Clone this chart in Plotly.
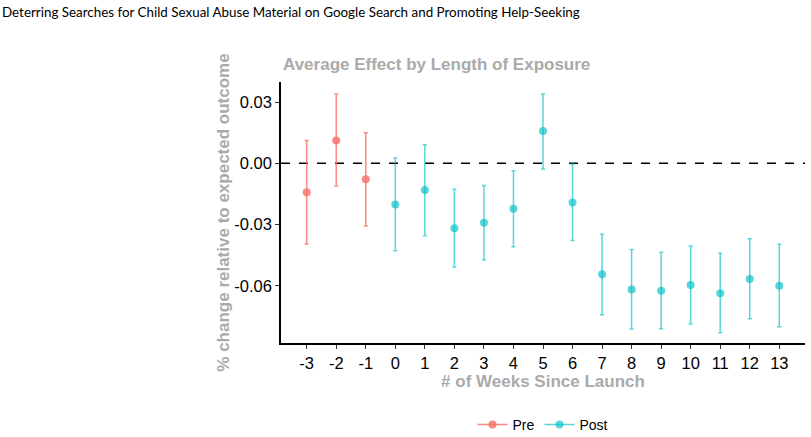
import plotly.graph_objects as go

weeks = [-3, -2, -1, 0, 1, 2, 3, 4, 5, 6, 7, 8, 9, 10, 11, 12, 13]
estimate = [-0.0142, 0.0112, -0.0078, -0.0201, -0.0131, -0.0317, -0.0291, -0.0222,
            0.0158, -0.0191, -0.0543, -0.0617, -0.0623, -0.0595, -0.0635, -0.0566, -0.0599]
upper = [0.0112, 0.0339, 0.0150, 0.0026, 0.0091, -0.0127, -0.0108, -0.0036,
         0.0339, -0.0003, -0.0347, -0.0421, -0.0435, -0.0405, -0.0440, -0.0369, -0.0396]
lower = [-0.0395, -0.0111, -0.0307, -0.0428, -0.0354, -0.0507, -0.0473, -0.0408,
         -0.0028, -0.0377, -0.0741, -0.0811, -0.0809, -0.0786, -0.0829, -0.0760, -0.0799]
period = ["Pre"] * 3 + ["Post"] * 14
colors = {"Pre": "rgba(248,118,109,0.85)", "Post": "rgba(0,191,196,0.65)"}

y_ticks = [0.03, 0.0, -0.03, -0.06]
y_tick_text = ["0.03", "0.00", "-0.03", "-0.06"]
x_tick_text = [str(w) for w in weeks]

fig = go.Figure()
for grp in ["Pre", "Post"]:
    idx = [i for i, p in enumerate(period) if p == grp]
    xs = [weeks[i] for i in idx]
    ys = [estimate[i] for i in idx]
    up = [upper[i] - estimate[i] for i in idx]
    lo = [estimate[i] - lower[i] for i in idx]
    fig.add_trace(go.Scatter(
        x=xs, y=ys, mode="markers", showlegend=False,
        marker=dict(color=colors[grp], size=8),
        error_y=dict(type="data", symmetric=False, array=up, arrayminus=lo,
                     color=colors[grp], thickness=1.5, width=2),
    ))
for grp in ["Pre", "Post"]:
    fig.add_trace(go.Scatter(
        x=[None], y=[None], mode="lines+markers", name=grp,
        marker=dict(color=colors[grp], size=8),
        line=dict(color=colors[grp], width=1.5),
    ))

fig.add_shape(type="line", xref="paper", x0=0, x1=1, yref="y", y0=0, y1=0,
              line=dict(color="black", width=1.5, dash="dash"), layer="below")

fig.update_layout(
    width=811, height=437,
    margin=dict(l=281, r=6, t=82, b=94, autoexpand=False),
    paper_bgcolor="white", plot_bgcolor="white",
    font=dict(family="Liberation Sans, Arial, sans-serif", color="black"),
    showlegend=True,
    legend=dict(orientation="h", x=0.5, xanchor="center",
                yref="container", y=(437 - 425) / 437, yanchor="middle",
                font=dict(size=14, color="black"), itemwidth=30, tracegroupgap=0),
    annotations=[
        dict(text="Deterring Searches for Child Sexual Abuse Material on Google Search and Promoting Help-Seeking",
             xref="paper", yref="paper", x=-281/524, y=1 + (82 - 12) / 261,
             xanchor="left", yanchor="middle", showarrow=False,
             font=dict(family="Lato, Noto Sans, sans-serif", size=13.4, color="black")),
        dict(text="<b>Average Effect by Length of Exposure</b>",
             xref="paper", yref="paper", x=0, y=1 + (82 - 65) / 261,
             xanchor="left", yanchor="middle", showarrow=False,
             font=dict(size=17, color="#AAAAAA")),
    ],
    xaxis=dict(
        range=[-3.87, 13.87], tickmode="array", tickvals=weeks, ticktext=x_tick_text,
        showgrid=False, zeroline=False, showline=True, linecolor="black", linewidth=1.5,
        ticks="outside", ticklen=4, tickwidth=1, tickcolor="#333333",
        tickfont=dict(size=16.5, color="black"), automargin=False,
        title=dict(text="<b># of Weeks Since Launch</b>", font=dict(size=17, color="#AAAAAA"), standoff=3),
    ),
    yaxis=dict(
        range=[-0.0879, 0.0398], tickmode="array", tickvals=y_ticks, ticktext=y_tick_text,
        showgrid=False, zeroline=False, showline=True, linecolor="black", linewidth=1.5,
        ticks="outside", ticklen=4, tickwidth=1, tickcolor="#333333",
        tickfont=dict(size=16.5, color="black"), automargin=False,
        title=dict(text="<b>% change relative to expected outcome</b>", font=dict(size=17, color="#AAAAAA"), standoff=0),
    ),
)

fig.write_html("out.html")
